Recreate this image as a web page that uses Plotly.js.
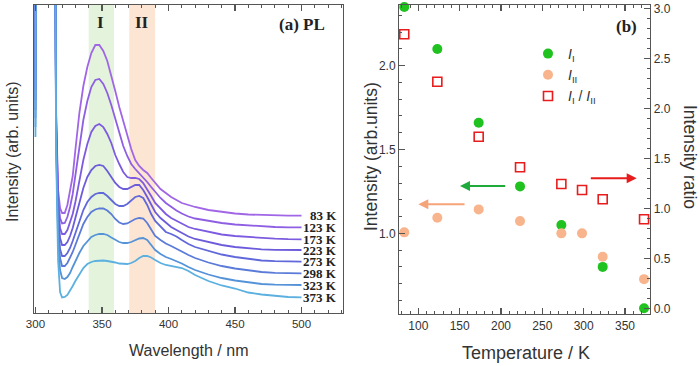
<!DOCTYPE html>
<html>
<head>
<meta charset="utf-8">
<script src="https://cdn.plot.ly/plotly-3.0.1.min.js"></script>
<style>
  html, body { margin: 0; padding: 0; background: #fff; }
  #chart { width: 700px; height: 366px; }
</style>
</head>
<body>
<div id="chart"></div>
<script>
// ---------- (a) PL spectra ----------
// Wavelength grid (nm); values above the plotted range are the excitation tail.
const wavelength = [300, 300.5, 314, 315.5, 317, 318.5, 320, 322, 324, 326, 328, 330, 333, 336, 339, 342,
  345, 348, 351, 354, 357, 360, 363, 366, 369, 372, 375, 378, 381, 384, 387, 390, 394, 398, 402, 406,
  410, 415, 420, 430, 440, 450, 460, 470, 480, 490, 500];

const tempLabels = ['83 K', '123 K', '173 K', '223 K', '273 K', '298 K', '323 K', '373 K'];

const pl83 = [243, 650, 650, 203, 123, 105, 100, 100, 108, 121, 137, 163, 200, 227, 246, 260,
  268, 268, 262, 252, 238, 222, 206, 192, 178, 164, 153, 147, 143, 140, 135, 130, 124, 120, 116, 113,
  110, 108, 106, 103, 101, 99.5, 98.5, 98, 97.5, 97.3, 97.3];
const pl123 = [233, 650, 650, 198, 115, 95, 89.5, 90, 96, 106, 119, 137, 167, 193, 212, 226,
  233, 234, 229, 220, 208, 194, 180, 167, 157, 149, 144, 140, 136, 131, 126, 121, 115, 110, 106, 102.5,
  99.5, 96.5, 94.5, 92, 90, 88.5, 87.5, 86.5, 86, 85.7, 85.7];
const pl173 = [223, 650, 650, 193, 108, 85, 79, 79, 83, 90, 99, 111, 132, 153, 169, 181,
  187, 189, 186, 179, 170, 158, 149, 141, 136, 135, 135, 134, 130, 124, 117, 110, 104, 99, 95, 92,
  89, 86, 84, 81, 78.5, 77, 76, 75, 74.3, 73.8, 73.7];
const pl223 = [213, 650, 650, 188, 101, 75, 68, 68, 71, 77, 85, 94, 110, 125, 136, 143,
  147, 148, 147, 142, 136, 130, 126, 124, 124, 126, 128, 128, 123, 116, 108, 101, 95, 90, 86, 83,
  80, 76.5, 74, 71, 68, 66, 64.5, 63.7, 63.2, 63, 63];
const pl273 = [203, 650, 650, 183, 93, 64, 57, 57, 60, 65, 72, 80, 92, 103, 111, 116,
  119, 120, 120, 117, 113, 109, 107, 107, 109, 113, 116, 117, 115, 108, 99, 92, 86, 81, 79, 76.5,
  73, 69, 66, 62, 58.5, 56, 54, 52.5, 51.8, 51.4, 51.3];
const pl298 = [195, 650, 650, 178, 83, 55, 47, 47, 50, 55, 61, 68, 79, 89, 96, 101,
  103.5, 104.5, 104.5, 102.5, 99, 94, 90.5, 89, 89.5, 92, 94, 95, 94.5, 90, 83, 77, 73, 69.5, 67, 64.5,
  61.5, 58, 55, 50.5, 47, 44.5, 42.5, 41, 40.2, 39.8, 39.7];
const pl323 = [186, 650, 650, 173, 73, 43, 35, 34, 36, 40, 46, 52, 60, 67, 72, 76,
  78, 79, 79, 78, 75.5, 73, 71, 70, 70, 71, 73, 74.5, 75, 73, 68, 63, 59, 56, 54, 52,
  49.5, 46, 43, 38.5, 35, 32.5, 30.5, 29, 28.3, 28, 28];
const pl373 = [176, 650, 650, 163, 53, 21, 15.5, 16, 18, 22, 27, 32, 39, 45, 49, 51,
  52, 52.5, 52.5, 52, 51.5, 50.5, 49.5, 49, 49, 50, 52, 55, 57, 57, 55.5, 53, 50, 48, 47, 46.5,
  45, 42, 38, 32, 27.5, 24.5, 20.5, 18.5, 17, 16, 15.7];

const spectra = [pl83, pl123, pl173, pl223, pl273, pl298, pl323, pl373];
const lineColors = ['#a066e6', '#8e5fe3', '#7d5be0', '#6c5cdc', '#6068da', '#5a7bd8', '#5593d9', '#5bb0e0'];

// ---------- (b) band intensities vs temperature ----------
const temperature = [83, 123, 173, 223, 273, 298, 323, 373];
const intensityI  = [2.35, 2.10, 1.66, 1.28, 1.05, null, 0.80, 0.553];
const intensityII = [1.006, 1.093, 1.143, 1.073, 1.00, 1.00, 0.86, 0.727];
const ratioI_II   = [2.74, 2.266, 1.716, 1.41, 1.243, 1.183, 1.09, 0.89];

const sans = 'Liberation Sans, Arial, Helvetica, sans-serif';
const serif = 'Liberation Serif, Times New Roman, serif';
const axisCol = '#555';
const textCol = '#333';

const traces = [];
spectra.forEach((vals, i) => {
  traces.push({
    type: 'scatter', mode: 'lines', x: wavelength, y: vals,
    xaxis: 'x', yaxis: 'y', showlegend: false, hoverinfo: 'skip',
    line: { color: lineColors[i], width: 1.8 }
  });
});

traces.push({
  type: 'scatter', mode: 'markers', x: temperature, y: intensityI, cliponaxis: false,
  xaxis: 'x2', yaxis: 'y2', name: '<i>I</i><sub>I</sub>', legendgroup: 'a',
  marker: { symbol: 'circle', size: 10, color: '#1fc21f' }
});
traces.push({
  type: 'scatter', mode: 'markers', x: temperature, y: intensityII, cliponaxis: false,
  xaxis: 'x2', yaxis: 'y2', name: '<i>I</i><sub>II</sub>', legendgroup: 'b',
  marker: { symbol: 'circle', size: 10, color: '#f8b48c' }
});
traces.push({
  type: 'scatter', mode: 'markers', x: temperature, y: ratioI_II, cliponaxis: false,
  xaxis: 'x2', yaxis: 'y3', name: '<i>I</i><sub>I</sub> / <i>I</i><sub>II</sub>', legendgroup: 'c',
  marker: { symbol: 'square-open', size: 9, color: '#e81c1c', line: { width: 1.6, color: '#e81c1c' } }
});

const annotations = [];
const note = (o) => annotations.push(Object.assign({ showarrow: false, xanchor: 'center', yanchor: 'middle' }, o));

// temperature labels at the right end of each spectrum
spectra.forEach((vals, i) => {
  note({
    xref: 'x', yref: 'y', x: 527.4, y: vals[vals.length - 1], xanchor: 'right', borderpad: 0,
    text: '<b>' + tempLabels[i] + '</b>',
    font: { family: serif, size: 13, color: '#222' }
  });
});

// band labels and panel tags
note({ xref: 'x', yref: 'paper', x: 349, y: (366 - 23) / 366, text: '<b>I</b>',
  font: { family: serif, size: 17, color: '#222' } });
note({ xref: 'x', yref: 'paper', x: 380, y: (366 - 23) / 366, text: '<b>II</b>',
  font: { family: serif, size: 17, color: '#222' } });
note({ xref: 'paper', yref: 'paper', x: 301.7 / 700, y: (366 - 25) / 366, text: '<b>(a) PL</b>',
  font: { family: serif, size: 17, color: '#222' } });
note({ xref: 'paper', yref: 'paper', x: 626.7 / 700, y: (366 - 26.7) / 366, text: '<b>(b)</b>',
  font: { family: serif, size: 17, color: '#222' } });

// axis titles
note({ xref: 'paper', yref: 'paper', x: 12 / 700, y: (366 - 152) / 366, textangle: -90,
  text: 'Intensity (arb. units)', font: { family: sans, size: 16, color: textCol } });
note({ xref: 'paper', yref: 'paper', x: 188 / 700, y: (366 - 350) / 366,
  text: 'Wavelength / nm', font: { family: sans, size: 16, color: textCol } });
note({ xref: 'paper', yref: 'paper', x: 371 / 700, y: (366 - 157) / 366, textangle: -90,
  text: 'Intensity (arb.units)', font: { family: sans, size: 17.5, color: textCol } });
note({ xref: 'paper', yref: 'paper', x: 525.8 / 700, y: (366 - 353) / 366,
  text: 'Temperature / K', font: { family: sans, size: 18, color: textCol } });
note({ xref: 'paper', yref: 'paper', x: 690 / 700, y: (366 - 157) / 366, textangle: 90,
  text: 'Intensity ratio', font: { family: sans, size: 17.5, color: textCol } });

// arrows pointing each series to its axis
annotations.push(
  { xref: 'x2', yref: 'y2', axref: 'x2', ayref: 'y2', x: 150.4, y: 1.282, ax: 206.9, ay: 1.282,
    text: '', showarrow: true, arrowhead: 2, arrowsize: 1, arrowwidth: 2, arrowcolor: '#1faa3c' },
  { xref: 'x2', yref: 'y2', axref: 'x2', ayref: 'y2', x: 100, y: 1.173, ax: 157.7, ay: 1.173,
    text: '', showarrow: true, arrowhead: 2, arrowsize: 1, arrowwidth: 2, arrowcolor: '#f5a47a' },
  { xref: 'x2', yref: 'y3', axref: 'x2', ayref: 'y3', x: 364.1, y: 1.30, ax: 306.8, ay: 1.30,
    text: '', showarrow: true, arrowhead: 2, arrowsize: 1, arrowwidth: 2, arrowcolor: '#e81c1c' }
);

const shapes = [
  { type: 'rect', xref: 'x', yref: 'y domain', x0: 340, x1: 359, y0: 0, y1: 1, layer: 'below',
    line: { width: 0 }, fillcolor: '#e4f4dc' },
  { type: 'rect', xref: 'x', yref: 'y domain', x0: 370.5, x1: 390, y0: 0, y1: 1, layer: 'below',
    line: { width: 0 }, fillcolor: '#fde5d4' }
];

const baseAxis = {
  showline: true, linecolor: axisCol, linewidth: 1.3, showgrid: false, zeroline: false,
  ticks: 'inside', tickcolor: axisCol, tickwidth: 1.2, ticklen: 6,
  tickfont: { family: sans, size: 12, color: textCol }
};

const layout = {
  width: 700, height: 366,
  margin: { l: 0, r: 0, t: 0, b: 0 },
  paper_bgcolor: '#fff', plot_bgcolor: 'rgba(0,0,0,0)',
  showlegend: true,
  legend: {
    x: 528 / 700, y: (366 - 38) / 366, xanchor: 'left', yanchor: 'top',
    bgcolor: 'rgba(0,0,0,0)', borderwidth: 0, tracegroupgap: 0,
    font: { family: sans, size: 14, color: textCol }
  },
  xaxis: Object.assign({}, baseAxis, {
    domain: [34 / 700, 343 / 700], range: [298.9, 531.2], anchor: 'y',
    mirror: 'ticks', tick0: 300, dtick: 50,
    minor: { ticks: 'inside', dtick: 10, ticklen: 3, tickcolor: axisCol, tickwidth: 1 },
    tickfont: { family: sans, size: 11.5, color: textCol }
  }),
  yaxis: {
    domain: [53 / 366, 361 / 366], range: [0, 308], anchor: 'x',
    showline: true, linecolor: axisCol, linewidth: 1.3, mirror: true,
    ticks: '', showticklabels: false, showgrid: false, zeroline: false
  },
  xaxis2: Object.assign({}, baseAxis, {
    domain: [399.3 / 700, 650 / 700], range: [77, 380.2], anchor: 'y2',
    mirror: 'ticks', tick0: 0, dtick: 50,
    minor: { ticks: 'inside', dtick: 10, ticklen: 3, tickcolor: axisCol, tickwidth: 1 }
  }),
  yaxis2: Object.assign({}, baseAxis, {
    domain: [52 / 366, 361 / 366], range: [0.519, 2.362], anchor: 'x2',
    tick0: 0, dtick: 0.5, tickformat: '.1f',
    minor: { ticks: 'inside', dtick: 0.1, ticklen: 3, tickcolor: axisCol, tickwidth: 1 }
  }),
  yaxis3: Object.assign({}, baseAxis, {
    overlaying: 'y2', side: 'right', anchor: 'x2', range: [-0.057, 3.033],
    tick0: 0, dtick: 0.5, tickformat: '.1f',
    minor: { ticks: 'inside', dtick: 0.1, ticklen: 3, tickcolor: axisCol, tickwidth: 1 }
  }),
  shapes: shapes,
  annotations: annotations
};

Plotly.newPlot('chart', traces, layout, { displayModeBar: false, staticPlot: true });
</script>
</body>
</html>
